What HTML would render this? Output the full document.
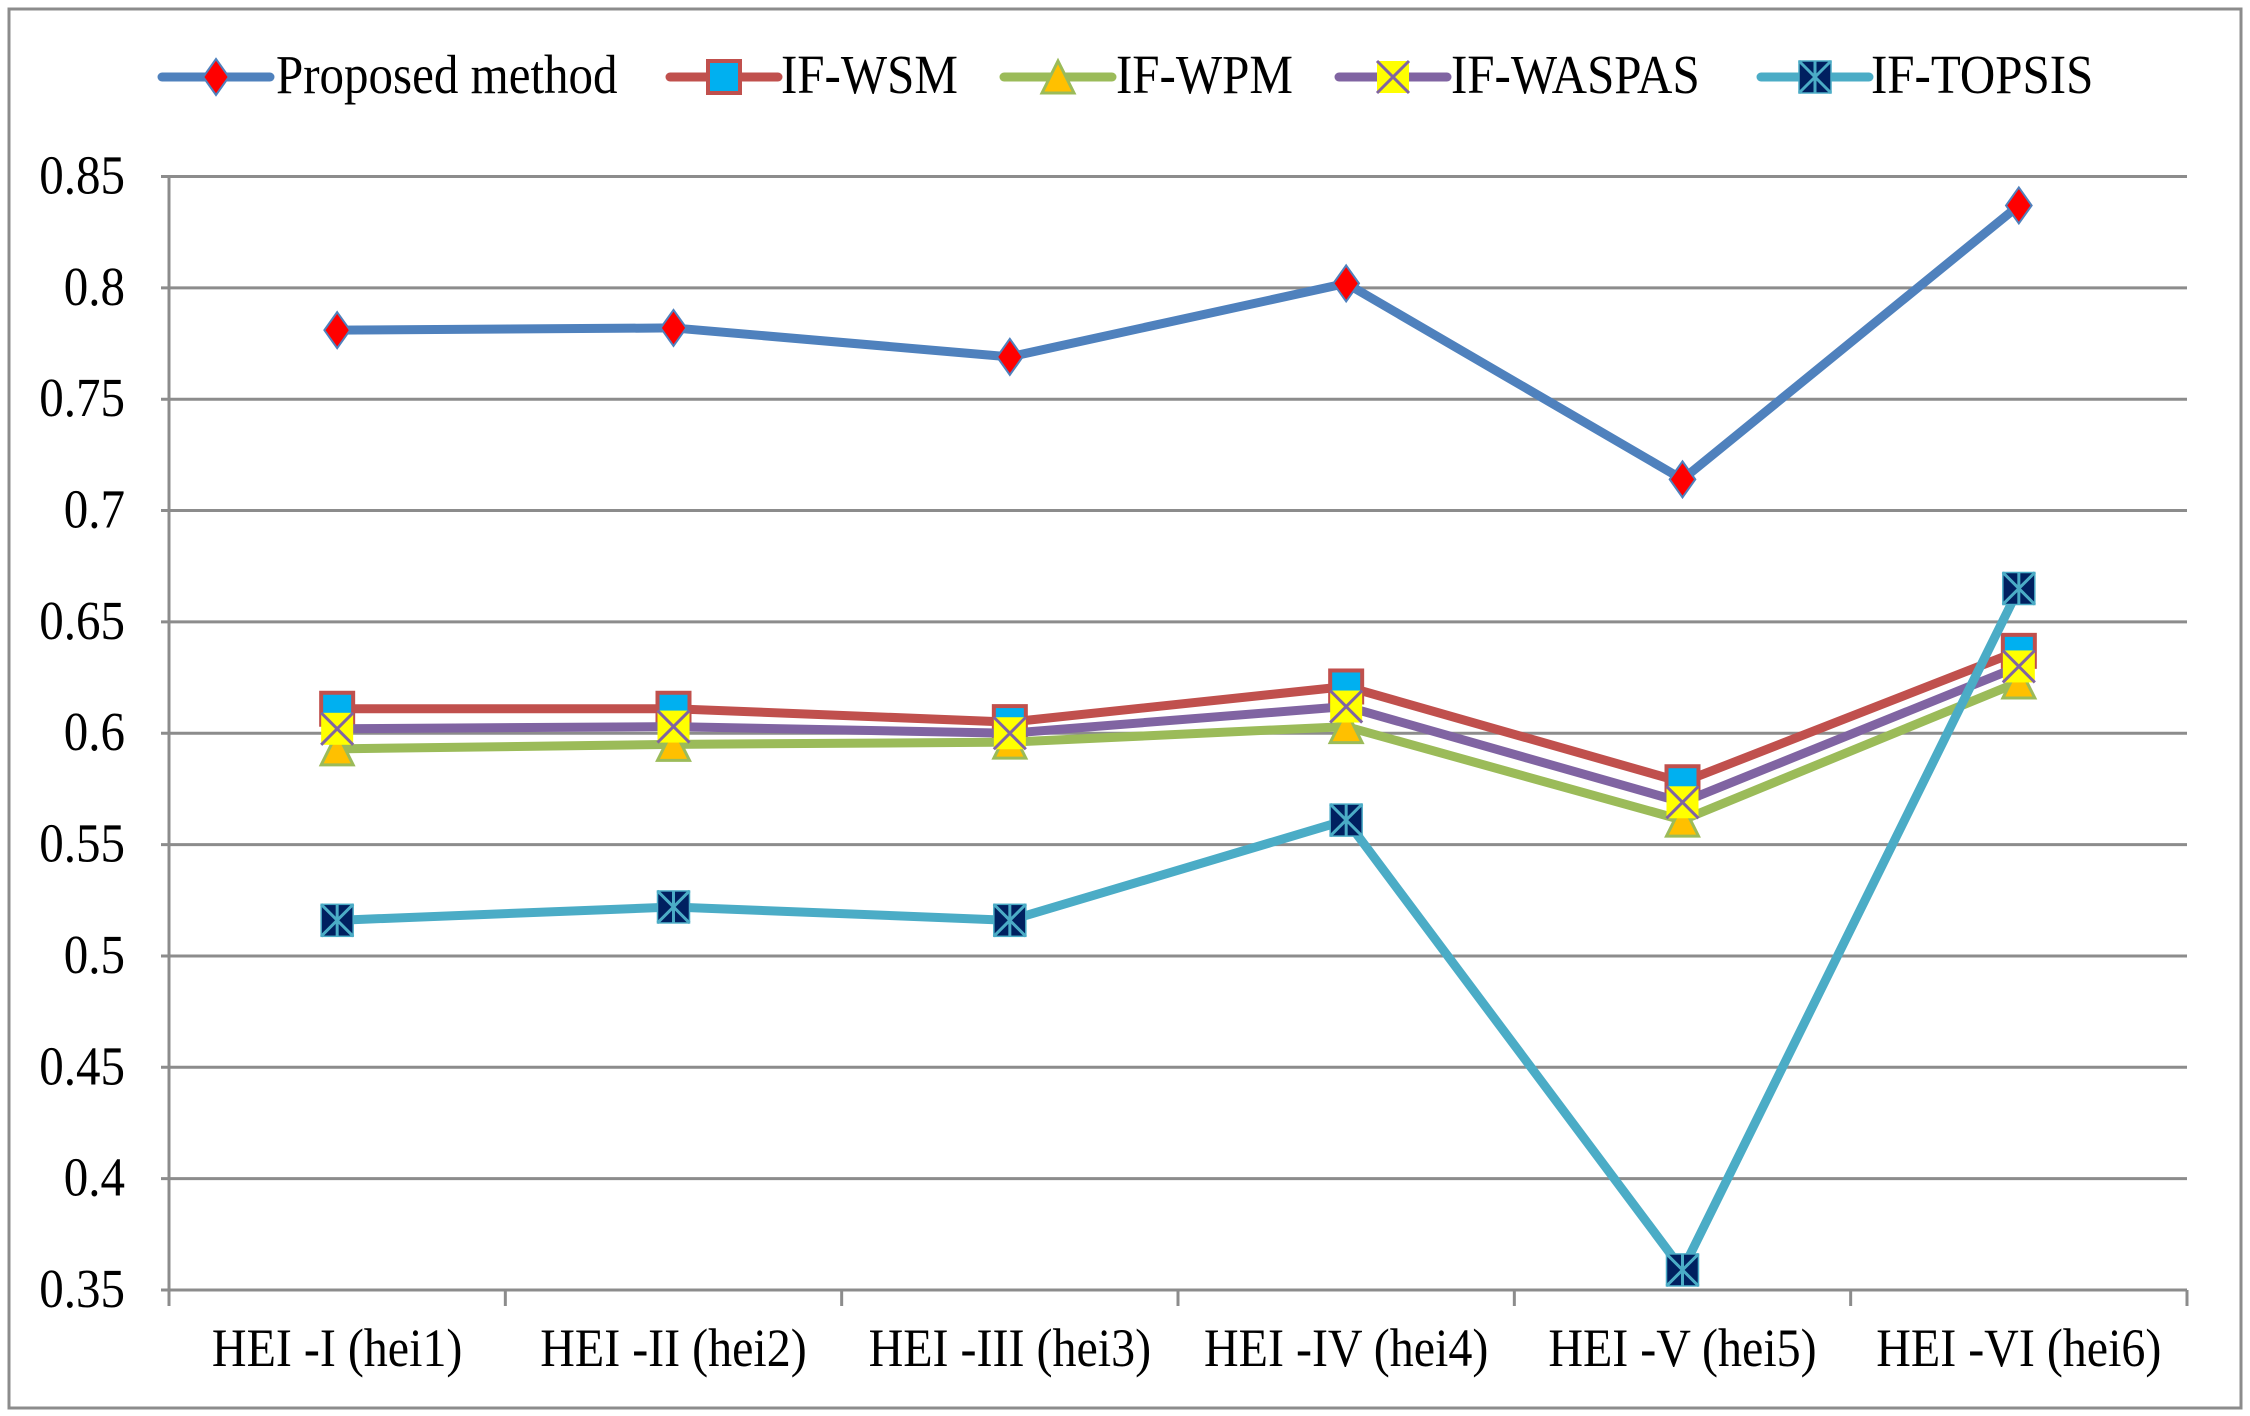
<!DOCTYPE html>
<html><head><meta charset="utf-8"><style>
html,body{margin:0;padding:0;background:#fff;}
svg{display:block;font-family:"Liberation Serif",serif;}
</style></head><body>
<svg id="chart" width="2250" height="1416" viewBox="0 0 2250 1416" xmlns="http://www.w3.org/2000/svg">
<rect x="9" y="9" width="2232" height="1399" fill="#fff" stroke="#8c8c8c" stroke-width="3"/>
<g id="grid"></g><g id="axes"></g><g id="series"></g><g id="legend"></g>
</svg>
<script>
const categories = ["HEI -I (hei1)","HEI -II (hei2)","HEI -III (hei3)","HEI -IV (hei4)","HEI -V (hei5)","HEI -VI (hei6)"];
const yTicks = [0.35,0.4,0.45,0.5,0.55,0.6,0.65,0.7,0.75,0.8,0.85];
const yTickLabels = ["0.35","0.4","0.45","0.5","0.55","0.6","0.65","0.7","0.75","0.8","0.85"];
const proposed = [0.781,0.782,0.769,0.802,0.714,0.837];
const wsm = [0.611,0.611,0.605,0.621,0.578,0.637];
const wpm = [0.593,0.595,0.596,0.603,0.561,0.623];
const waspas = [0.602,0.603,0.600,0.612,0.569,0.630];
const topsis = [0.516,0.522,0.516,0.561,0.359,0.665];
const seriesNames = ["Proposed method","IF-WSM","IF-WPM","IF-WASPAS","IF-TOPSIS"];

const NS="http://www.w3.org/2000/svg";
const L=169,R=2187,T=176.5,B=1290,ymin=0.35,ymax=0.85;
const bw=(R-L)/categories.length;
const x=i=>L+bw*(i+0.5);
const y=v=>B-(v-ymin)/(ymax-ymin)*(B-T);
function mk(tag,attrs,parent){const e=document.createElementNS(NS,tag);for(const k in attrs)e.setAttribute(k,attrs[k]);parent.appendChild(e);return e;}
const grid=document.getElementById('grid'),axes=document.getElementById('axes'),sg=document.getElementById('series'),lg=document.getElementById('legend');

yTicks.forEach((t,i)=>{
  const ln=mk('line',{x1:L-8,x2:R,y1:y(t),y2:y(t),stroke:'#8c8c8c','stroke-width':3},grid);
  
  
  const tx=mk('text',{x:L-44,y:y(t)+17,'text-anchor':'end','font-size':49,fill:'#000',transform:`translate(${L-44} ${y(t)+17}) scale(1 1.12) translate(${-(L-44)} ${-(y(t)+17)})`},axes);
  tx.setAttribute('x',L-44);
  tx.textContent=yTickLabels[i];
  
  
});
const ya=mk('line',{x1:L,x2:L,y1:T,y2:B,stroke:'#8c8c8c','stroke-width':3},axes);


for(let i=0;i<=categories.length;i++){
  const tk=mk('line',{x1:L+bw*i,x2:L+bw*i,y1:B,y2:B+16,stroke:'#8c8c8c','stroke-width':3},axes);
  
  
}
categories.forEach((c,i)=>{
  const tx=mk('text',{x:x(i),y:1366,'text-anchor':'middle','font-size':48,fill:'#000',transform:`translate(0 1366) scale(1 1.12) translate(0 -1366)`},axes);
  tx.textContent=c;
  
  
});

function marker(type,cx,cy,g){
  const s=16;
  if(type==='diamond'){mk('polygon',{points:`${cx},${cy-s-2} ${cx+s*0.8},${cy} ${cx},${cy+s+2} ${cx-s*0.8},${cy}`,fill:'#ff0000',stroke:'#4f81bd','stroke-width':2},g);}
  else if(type==='square'){mk('rect',{x:cx-s,y:cy-s,width:2*s,height:2*s,fill:'#00b0f0',stroke:'#c0504d','stroke-width':4},g);}
  else if(type==='triangle'){mk('polygon',{points:`${cx},${cy-s} ${cx+s},${cy+s} ${cx-s},${cy+s}`,fill:'#ffc000',stroke:'#9bbb59','stroke-width':3},g);}
  else if(type==='x'){mk('rect',{x:cx-s,y:cy-s,width:2*s,height:2*s,fill:'#ffff00'},g);mk('path',{d:`M${cx-s} ${cy-s}L${cx+s} ${cy+s}M${cx+s} ${cy-s}L${cx-s} ${cy+s}`,stroke:'#8064a2','stroke-width':3},g);}
  else if(type==='star'){mk('rect',{x:cx-s,y:cy-s,width:2*s,height:2*s,fill:'#002060',stroke:'#4bacc6','stroke-width':1.5},g);mk('path',{d:`M${cx} ${cy-s}L${cx} ${cy+s}M${cx-s} ${cy-s}L${cx+s} ${cy+s}M${cx+s} ${cy-s}L${cx-s} ${cy+s}`,stroke:'#4bacc6','stroke-width':3},g);}
}
const defs=[
 {data:proposed,color:'#4f81bd',m:'diamond',name:'series-proposed-method'},
 {data:wsm,color:'#c0504d',m:'square',name:'series-if-wsm'},
 {data:wpm,color:'#9bbb59',m:'triangle',name:'series-if-wpm'},
 {data:waspas,color:'#8064a2',m:'x',name:'series-if-waspas'},
 {data:topsis,color:'#4bacc6',m:'star',name:'series-if-topsis'}
];
defs.forEach(d=>{
  const g=mk('g',{},sg);
  
  
  const pl=mk('polyline',{points:d.data.map((v,i)=>`${x(i)},${y(v)}`).join(' '),fill:'none',stroke:d.color,'stroke-width':9,'stroke-linejoin':'round'},g);
  
  
  d.data.forEach((v,i)=>marker(d.m,x(i),y(v),g));
});
const legendPos=[[162,270,276],[670,778,781],[1004,1112,1116],[1339,1447,1451],[1761,1869,1871]];
defs.forEach((d,i)=>{
  const g=mk('g',{},lg);
  
  
  const [a,b,t]=legendPos[i];
  mk('line',{x1:a,x2:b,y1:77,y2:77,stroke:d.color,'stroke-width':9,'stroke-linecap':'round'},g);
  marker(d.m,(a+b)/2,77,g);
  const tx=mk('text',{x:t,y:93,'font-size':49,fill:'#000',transform:`translate(0 93) scale(1 1.12) translate(0 -93)`},g);
  tx.textContent=seriesNames[i];
});
</script>
</body></html>
